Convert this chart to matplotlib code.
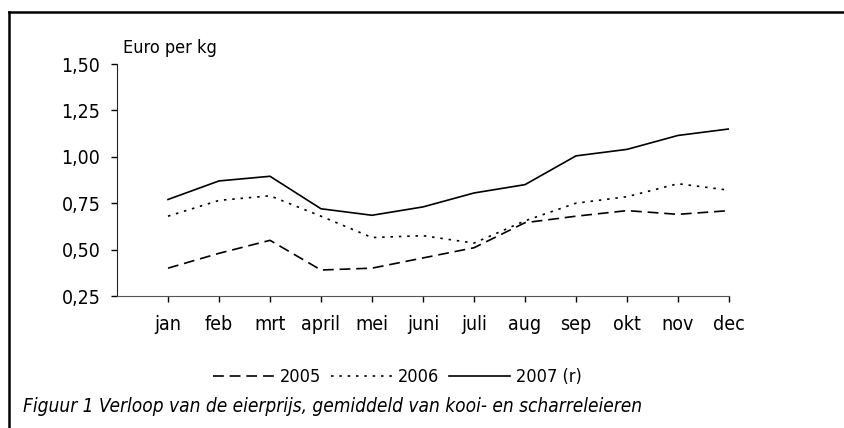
import numpy as np
import matplotlib
matplotlib.use("Agg")
from matplotlib import pyplot as plt
from matplotlib.lines import Line2D

plt.rcParams['font.family'] = ['DejaVu Sans']
plt.rcParams['font.stretch'] = 'condensed'

months = ['jan', 'feb', 'mrt', 'april', 'mei', 'juni', 'juli', 'aug',
          'sep', 'okt', 'nov', 'dec']
prijs_2005 = [0.40, 0.48, 0.55, 0.39, 0.40, 0.455, 0.51, 0.645,
              0.68, 0.71, 0.69, 0.71]
prijs_2006 = [0.68, 0.765, 0.79, 0.68, 0.565, 0.575, 0.535, 0.655,
              0.75, 0.785, 0.855, 0.82]
prijs_2007 = [0.77, 0.87, 0.895, 0.72, 0.685, 0.73, 0.805, 0.85,
              1.005, 1.04, 1.115, 1.15]
yticks = [0.25, 0.50, 0.75, 1.00, 1.25, 1.50]

W, H = 845, 428
fig = plt.figure(figsize=(W/100., H/100.), dpi=100)
ax = fig.add_axes([117./W, 1 - 296./H, (729 - 117.)/W, (296 - 64.)/H])

x = np.arange(len(months))
ax.plot(x, prijs_2005, color='black', lw=1.2, dashes=(6.5, 3.5), label='2005')
ax.plot(x, prijs_2006, color='black', lw=1.2, dashes=(1.5, 3.5), label='2006')
ax.plot(x, prijs_2007, color='black', lw=1.2, label='2007 (r)')

ax.set_xlim(-1, len(months) - 1)
ax.set_ylim(0.25, 1.50)
ax.set_xticks(x)
ax.set_xticklabels(months)
ax.set_yticks(yticks)
ax.set_yticklabels([('%.2f' % v).replace('.', ',') for v in yticks])
for s in ['top', 'right']:
    ax.spines[s].set_visible(False)
ax.spines['left'].set_color('#222222')
ax.spines['bottom'].set_color('#555555')
ax.tick_params(axis='both', direction='out', length=4, width=1,
               labelsize=14, colors='black')
ax.tick_params(axis='x', pad=10)
ax.tick_params(axis='y', pad=8)

fig.text(123./W, 1 - 48./H, 'Euro per kg', fontsize=13, va='center')

leg = fig.legend(loc='center', bbox_to_anchor=(397./W, 1 - 377./H),
                 ncol=3, frameon=False, fontsize=13, handlelength=3.4,
                 handletextpad=0.3, columnspacing=0.55,
                 borderpad=0, borderaxespad=0)

fig.text(23./W, 1 - 407./H,
         'Figuur 1 Verloop van de eierprijs, gemiddeld van kooi- en scharreleieren',
         fontsize=13.7, style='italic', va='center')

# kader rond de figuur
fig.add_artist(Line2D([9./W, 1], [1 - 12./H, 1 - 12./H], color='black', lw=1.8,
                      transform=fig.transFigure))
fig.add_artist(Line2D([9./W, 9./W], [0, 1 - 12./H], color='black', lw=1.8,
                      transform=fig.transFigure))

fig.savefig('out.png', dpi=100)
